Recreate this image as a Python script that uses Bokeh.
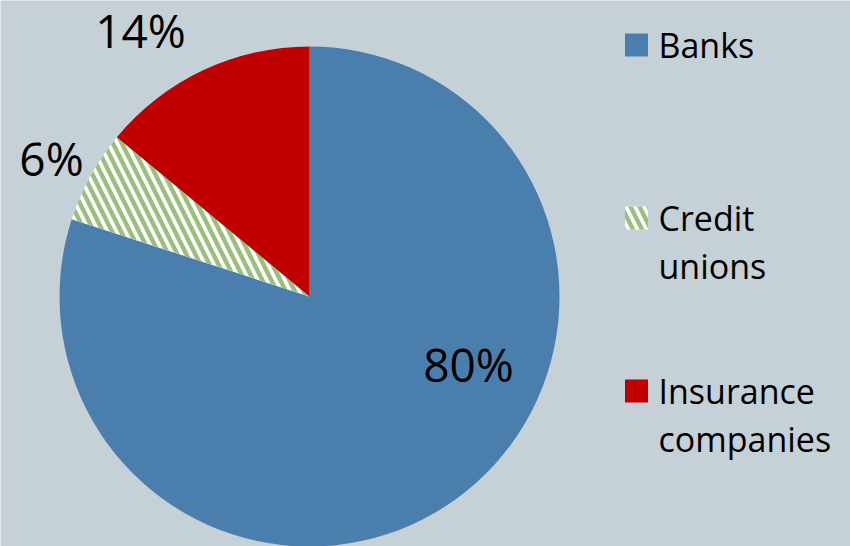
import math
from bokeh.plotting import figure
from bokeh.models import Range1d, ColumnDataSource
from bokeh.core.properties import value
from bokeh.embed import file_html
from bokeh.resources import INLINE

# ---- data ----
categories = ["Banks", "Credit unions", "Insurance companies"]
shares = [80, 6, 14]
pct_labels = ["80%", "6%", "14%"]
legend_labels = ["Banks", "Credit\nunions", "Insurance\ncompanies"]

# ---- style / layout ----
W, H = 850, 546
BG = "#C5D0D7"
colors = ["#4A7FAD", "#FFFFFF", "#C00000"]
hatches = [" ", "\\", " "]
HATCH_COLOR = "#9CBF7D"
FONT = "Open Sans"
CX, CY, R = 309, 296, 250          # pie centre / radius (pixels from top-left)
label_pos = [(468, 363), (51, 157), (140, 29.5)]   # percentage label centres (px)

def fy(ypx):
    return H - ypx

p = figure(width=W, height=H, output_backend="svg", toolbar_location=None,
           x_range=Range1d(0, W), y_range=Range1d(0, H), min_border=0,
           background_fill_color=BG, border_fill_color=BG, outline_line_color=None)
p.axis.visible = False
p.grid.visible = False

# wedges clockwise from 12 o'clock
total = float(sum(shares))
starts, ends = [], []
cum = 0.0
for s in shares:
    a0 = math.pi / 2 - cum / total * 2 * math.pi
    cum += s
    a1 = math.pi / 2 - cum / total * 2 * math.pi
    starts.append(a1)
    ends.append(a0)

src = ColumnDataSource(dict(x=[CX] * 3, y=[fy(CY)] * 3, start=starts, end=ends,
                            color=colors, hatch=hatches, cat=categories))
p.wedge(x="x", y="y", radius=R, start_angle="start", end_angle="end",
        direction="anticlock", fill_color="color", line_color=None,
        hatch_pattern="hatch", hatch_color=HATCH_COLOR, hatch_scale=18,
        hatch_weight=4.5, source=src)

# percentage labels
p.text(x=[lx for lx, ly in label_pos], y=[fy(ly) for lx, ly in label_pos],
       text=pct_labels, text_font=value(FONT), text_font_size="46px",
       text_color="#000000", text_align="center", text_baseline="middle")

# legend (manual)
SQ_X, SQ = 636, 23
TX = 658
base0, item_gap, line_gap = 44, 173, 48
sq_y, tx_x, tx_y, tx_t = [], [], [], []
for i, lab in enumerate(legend_labels):
    b = base0 + item_gap * i
    sq_y.append(fy(b + 0.5))
    for j, line in enumerate(lab.split("\n")):
        tx_x.append(TX)
        tx_y.append(fy(b + j * line_gap))
        tx_t.append(line)

p.rect(x=[SQ_X] * 3, y=sq_y, width=SQ, height=SQ, fill_color=colors,
       line_color=None, hatch_pattern=hatches, hatch_color=HATCH_COLOR,
       hatch_scale=18, hatch_weight=4.5)
p.text(x=tx_x, y=tx_y, text=tx_t, text_font=value(FONT), text_font_size="34px",
       text_color="#000000", text_align="left", text_baseline="alphabetic")

open("out.html", "w").write(file_html(p, INLINE))
